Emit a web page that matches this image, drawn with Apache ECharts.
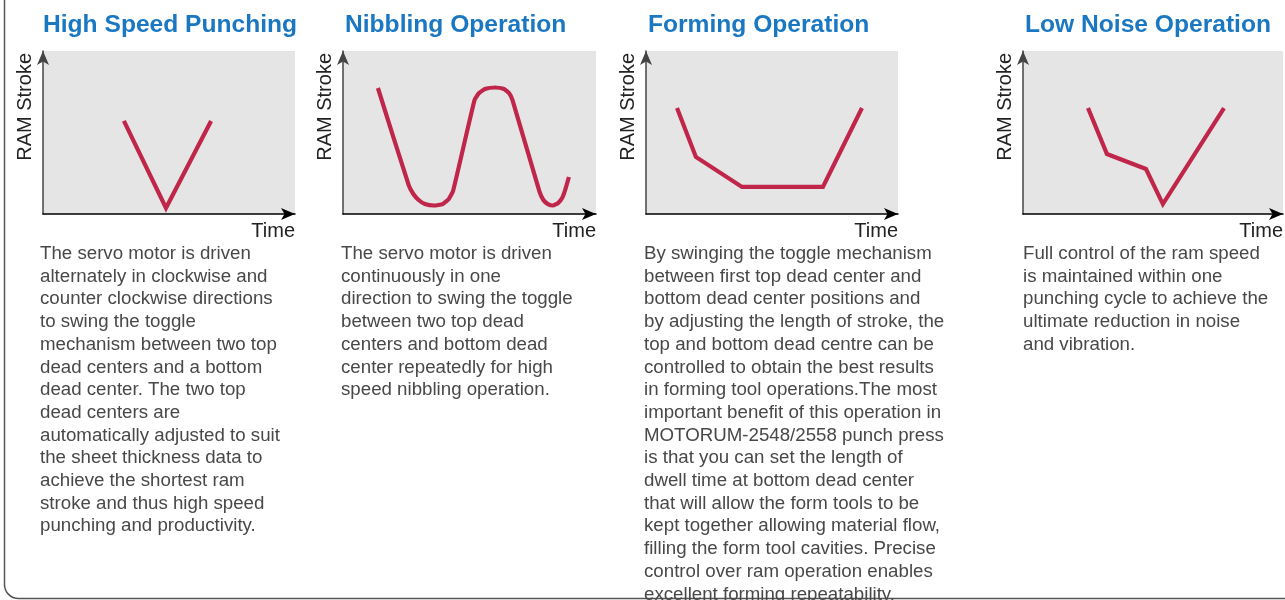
<!DOCTYPE html>
<html>
<head>
<meta charset="utf-8">
<script src="https://cdn.jsdelivr.net/npm/echarts@6/dist/echarts.min.js"></script>
<style>
html,body{margin:0;padding:0;background:#fff;}
#chart{width:1285px;height:600px;}
</style>
</head>
<body>
<div id="chart"></div>
<script>
// ---- data ----
const titles = ['High Speed Punching', 'Nibbling Operation', 'Forming Operation', 'Low Noise Operation'];
const xAxisName = 'Time';
const yAxisName = 'RAM Stroke';

const punchX = [32.1, 48.8, 66.7];
const punchY = [57.1, 3.7, 57.1];

const nibbleX = [13.8, 26.0, 27.8, 29.9, 32.4, 36.0, 39.4, 41.8, 43.5, 52.0, 53.8, 56.1, 60.1, 63.6, 65.6, 67.0, 77.6, 79.2, 81.0, 83.0, 85.0, 86.6, 87.8, 89.3];
const nibbleY = [77.3, 17.5, 12.3, 8.6, 6.1, 5.2, 6.1, 9.2, 14.1, 69.9, 74.2, 76.7, 77.6, 76.7, 74.2, 69.9, 14.0, 8.6, 6.1, 5.2, 6.7, 9.8, 14.7, 22.7];

const formX = [12.3, 19.8, 38.1, 70.2, 85.7];
const formY = [65.0, 35.0, 16.6, 16.6, 65.0];

const noiseX = [25.0, 32.3, 47.3, 53.8, 77.3];
const noiseY = [65.0, 36.8, 27.6, 6.1, 65.0];

const texts = [
  ['The servo motor is driven','alternately in clockwise and','counter clockwise directions','to swing the toggle','mechanism between two top','dead centers and a bottom','dead center. The two top','dead centers are','automatically adjusted to suit','the sheet thickness data to','achieve the shortest ram','stroke and thus high speed','punching and productivity.'],
  ['The servo motor is driven','continuously in one','direction to swing the toggle','between two top dead','centers and bottom dead','center repeatedly for high','speed nibbling operation.'],
  ['By swinging the toggle mechanism','between first top dead center and','bottom dead center positions and','by adjusting the length of stroke, the','top and bottom dead centre can be','controlled to obtain the best results','in forming tool operations.The most','important benefit of this operation in','MOTORUM-2548/2558 punch press','is that you can set the length of','dwell time at bottom dead center','that will allow the form tools to be','kept together allowing material flow,','filling the form tool cavities. Precise','control over ram operation enables','excellent forming repeatability.'],
  ['Full control of the ram speed','is maintained within one','punching cycle to achieve the','ultimate reduction in noise','and vibration.']
];

// ---- layout ----
const grids = [
  {left: 43, top: 51, width: 252, height: 163},
  {left: 343, top: 51, width: 253, height: 163},
  {left: 646, top: 51, width: 252, height: 163},
  {left: 1023, top: 51, width: 260, height: 163}
];
const titleLeft = [43, 345, 648, 1025];
const textLeft = [40, 341, 644, 1023];
const seriesData = [[punchX, punchY], [nibbleX, nibbleY], [formX, formY], [noiseX, noiseY]];

const FONT = '"Liberation Sans", Arial, Helvetica, sans-serif';
const lineColor = '#c0254a';

const option = {
  animation: false,
  backgroundColor: '#fff',
  title: [],
  grid: grids.map(g => Object.assign({show: true, backgroundColor: '#e5e5e5', borderWidth: 0}, g)),
  xAxis: grids.map((g, i) => ({
    type: 'value', gridIndex: i, min: 0, max: 100,
    axisLine: {show: true, onZero: false, symbol: ['none', 'arrow'], symbolSize: [9, 14], symbolOffset: [0, 0],
      lineStyle: {color: '#000', width: 1.5}},
    axisTick: {show: false}, axisLabel: {show: false}, splitLine: {show: false},
    name: xAxisName, nameLocation: 'end', nameGap: 0,
    nameTextStyle: {fontFamily: FONT, fontSize: 20, color: '#222', align: 'right', verticalAlign: 'top', padding: [7, 0, 0, 0]}
  })),
  yAxis: grids.map((g, i) => ({
    type: 'value', gridIndex: i, min: 0, max: 100,
    axisLine: {show: true, onZero: false, symbol: ['none', 'arrow'], symbolSize: [9, 14], symbolOffset: [0, 0],
      lineStyle: {color: '#444', width: 1.5}},
    axisTick: {show: false}, axisLabel: {show: false}, splitLine: {show: false},
    name: yAxisName, nameLocation: 'end', nameGap: -2, nameRotate: 90,
    nameTextStyle: {fontFamily: FONT, fontSize: 20, color: '#222', align: 'right', verticalAlign: 'bottom', padding: [0, 0, 8, 0]}
  })),
  series: seriesData.map((d, i) => ({
    type: 'line', xAxisIndex: i, yAxisIndex: i,
    data: d[0].map((x, k) => [x, d[1][k]]),
    showSymbol: false, smooth: i === 1 ? 0.15 : false,
    lineStyle: {color: lineColor, width: 4.2, cap: 'butt', join: i === 1 ? 'round' : 'miter'}
  })),
  graphic: [{
    type: 'rect', silent: true,
    shape: {x: 4.5, y: -30, width: 1400, height: 628.5, r: 14},
    style: {fill: 'none', stroke: '#555', lineWidth: 1.5}
  }]
};

titles.forEach((t, i) => {
  option.title.push({
    text: t, left: titleLeft[i], top: 10, padding: 0,
    textStyle: {fontFamily: FONT, fontSize: 24.6, fontWeight: 'bold', color: '#1a78c2', lineHeight: 31}
  });
});
texts.forEach((lines, i) => {
  option.title.push({
    text: lines.join('\n'), left: textLeft[i], top: 242.6, padding: 0,
    textStyle: {fontFamily: FONT, fontSize: 18.7, fontWeight: 'normal', color: '#484848', lineHeight: 22.7}
  });
});

const chart = echarts.init(document.getElementById('chart'));
chart.setOption(option);
</script>
</body>
</html>
